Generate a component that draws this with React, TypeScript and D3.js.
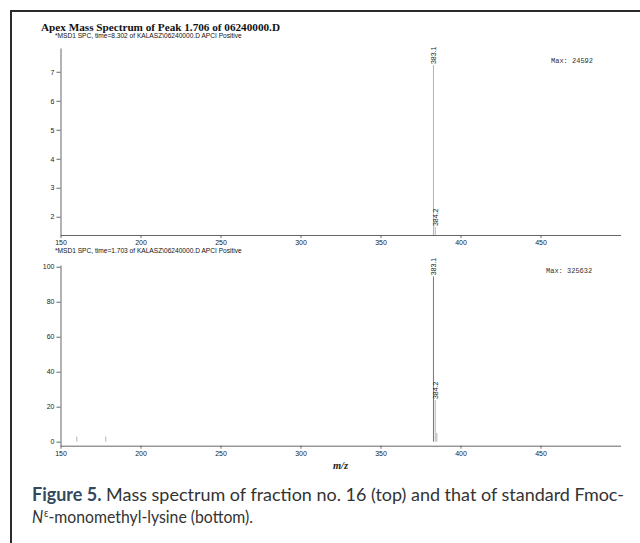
import React, { useEffect, useRef } from "react";
import * as d3 from "d3";

// m/z axis
const xMajorTicks = [150, 200, 250, 300, 350, 400, 450];
const xMinorTicks = d3.range(150, 500, 10);

// top spectrum (fraction no. 16)
const topYTicks = [2, 3, 4, 5, 6, 7];
const topMz = [383.1, 384.2];
const topAbundance = [7.23, 1.645];
const topLabels = ["383.1", "384.2"];

// bottom spectrum (standard)
const bottomYTicks = [0, 20, 40, 60, 80, 100];
const bottomMz = [160.2, 178.3, 383.1, 384.2, 385.2];
const bottomAbundance = [2.9, 2.9, 94.5, 23.8, 5];
const bottomLabels = ["", "", "383.1", "384.2", ""];

export default function App() {
  const ref = useRef<SVGSVGElement>(null);

  useEffect(() => {
    const svg = d3.select(ref.current);
    svg.selectAll("*").remove();

    const sans = "'Liberation Sans', Arial, sans-serif";
    const x = d3.scaleLinear().domain([150, 500]).range([60.5, 620.5]);

    // frame
    svg.append("path")
      .attr("d", "M11,543 V11 H640")
      .attr("fill", "none")
      .attr("stroke", "#2b2b2b")
      .attr("stroke-width", 2);

    svg.append("text")
      .attr("x", 41)
      .attr("y", 31)
      .attr("font-family", "'Liberation Serif', 'Times New Roman', serif")
      .attr("font-weight", "bold")
      .attr("font-size", 11.2)
      .attr("fill", "#111")
      .text("Apex Mass Spectrum of Peak 1.706 of 06240000.D");

    function panel(opts: {
      top: number;
      bottom: number;
      domain: [number, number];
      majors: number[];
      minorStep: number;
      subtitle: string;
      subY: number;
      mz: number[];
      ab: number[];
      labels: string[];
      base: number;
      max: string;
      maxX: number;
      maxY: number;
      color: string;
    }) {
      const y = d3.scaleLinear().domain(opts.domain).range([opts.bottom, opts.top]);

      svg.append("text")
        .attr("x", 55)
        .attr("y", opts.subY)
        .attr("font-family", sans)
        .attr("font-size", 6.6)
        .attr("fill", "#111")
        .text(opts.subtitle);

      const minors = d3.range(
        Math.ceil(opts.domain[0] / opts.minorStep) * opts.minorStep,
        opts.domain[1],
        opts.minorStep
      );

      const gy = svg.append("g").attr("transform", "translate(60.5,0)");
      gy.call(d3.axisLeft(y).tickValues(minors).tickSize(2).tickSizeOuter(0).tickFormat(() => ""));
      gy.call(
        d3.axisLeft(y).tickValues(opts.majors).tickSize(4).tickSizeOuter(0).tickPadding(2)
          .tickFormat(d3.format("d"))
      );

      const gx = svg.append("g").attr("transform", `translate(0,${opts.bottom})`);
      gx.call(d3.axisBottom(x).tickValues(xMinorTicks).tickSize(2).tickSizeOuter(0).tickFormat(() => ""));
      gx.call(
        d3.axisBottom(x).tickValues(xMajorTicks).tickSize(3).tickSizeOuter(0).tickPadding(2)
          .tickFormat(d3.format("d"))
      );

      [gx, gy].forEach((g) => {
        g.selectAll("path").attr("stroke", "#666");
        g.selectAll("line").attr("stroke", "#666");
        g.selectAll("text")
          .attr("font-family", sans)
          .attr("font-size", 7)
          .attr("fill", "#222");
      });

      const peaks = opts.mz.map((m, i) => ({ m, a: opts.ab[i], label: opts.labels[i] }));
      svg.selectAll(null)
        .data(peaks)
        .enter()
        .append("line")
        .attr("x1", (d) => x(d.m))
        .attr("x2", (d) => x(d.m))
        .attr("y1", y(opts.base))
        .attr("y2", (d) => y(d.a))
        .attr("stroke", (d) => (d.a > 50 ? opts.color : "#aaa"))
        .attr("stroke-width", 0.9);

      svg.selectAll(null)
        .data(peaks.filter((d) => d.label))
        .enter()
        .append("text")
        .attr("transform", (d) => `translate(${x(d.m) + 2.4},${y(d.a) - 1}) rotate(-90)`)
        .attr("font-family", sans)
        .attr("font-size", 7)
        .attr("fill", "#222")
        .text((d) => d.label);

      svg.append("text")
        .attr("x", opts.maxX)
        .attr("y", opts.maxY)
        .attr("font-family", "'Liberation Mono', 'Courier New', monospace")
        .attr("font-size", 7)
        .attr("fill", "#333")
        .text(opts.max);
    }

    panel({
      top: 48,
      bottom: 235,
      domain: [1.37, 7.82],
      majors: topYTicks,
      minorStep: 0.2,
      subtitle: "*MSD1 SPC, time=8.302 of KALASZ\\06240000.D  APCI Positive",
      subY: 37.5,
      mz: topMz,
      ab: topAbundance,
      labels: topLabels,
      base: 1.37,
      max: "Max: 24592",
      maxX: 551,
      maxY: 63,
      color: "#aaa",
    });

    panel({
      top: 265,
      bottom: 445.7,
      domain: [-2.3, 101],
      majors: bottomYTicks,
      minorStep: 5,
      subtitle: "*MSD1 SPC, time=1.703 of KALASZ\\06240000.D  APCI Positive",
      subY: 252.5,
      mz: bottomMz,
      ab: bottomAbundance,
      labels: bottomLabels,
      base: 0,
      max: "Max: 325632",
      maxX: 546,
      maxY: 273,
      color: "#666",
    });

    svg.append("text")
      .attr("x", x(325))
      .attr("y", 469)
      .attr("text-anchor", "middle")
      .attr("font-family", "'Liberation Serif', 'Times New Roman', serif")
      .attr("font-style", "italic")
      .attr("font-weight", "bold")
      .attr("font-size", 10.5)
      .attr("fill", "#222")
      .text("m/z");

    const cap = "Lato, 'Open Sans', sans-serif";
    const line1 = svg.append("text")
      .attr("x", 32)
      .attr("y", 501)
      .attr("font-family", cap)
      .attr("font-size", 18)
      .attr("fill", "#333")
      .attr("textLength", 592)
      .attr("lengthAdjust", "spacingAndGlyphs");
    line1.append("tspan").attr("font-weight", "bold").attr("fill", "#34495e").text("Figure 5.");
    line1.append("tspan").text(" Mass spectrum of fraction no. 16 (top) and that of standard Fmoc-");

    const line2 = svg.append("text")
      .attr("x", 32)
      .attr("y", 523)
      .attr("font-family", cap)
      .attr("font-size", 18)
      .attr("fill", "#333")
      .attr("textLength", 221)
      .attr("lengthAdjust", "spacingAndGlyphs");
    line2.append("tspan").attr("font-style", "italic").text("N");
    line2.append("tspan").attr("font-size", 11).attr("dx", 1).attr("dy", -6).text("ε");
    line2.append("tspan").attr("dy", 6).text("-monomethyl-lysine (bottom).");
  }, []);

  return (
    <svg
      ref={ref}
      width={640}
      height={543}
      style={{ position: "absolute", left: 0, top: 0, background: "#fff" }}
    />
  );
}
